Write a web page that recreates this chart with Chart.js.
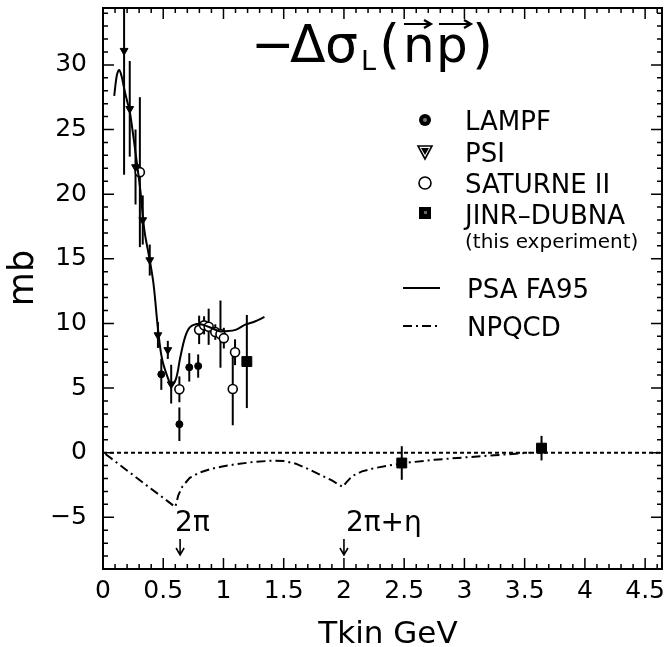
<!DOCTYPE html>
<html lang="en">
<head>
<meta charset="UTF-8">
<title>-Δσ_L(np)</title>
<script src="https://cdn.jsdelivr.net/npm/chart.js@4.4.0/dist/chart.umd.min.js"></script>
<style>
  body { margin: 0; background: #fff; }
  #wrap { width: 670px; height: 647px; }
</style>
</head>
<body>
<div id="wrap"><canvas id="chart" width="670" height="647"></canvas></div>
<script>
// axis ticks (labels)
var xTicks = [0, 0.5, 1, 1.5, 2, 2.5, 3, 3.5, 4, 4.5];
var yTicks = [-5, 0, 5, 10, 15, 20, 25, 30];
var xMin = 0, xMax = 4.64, yMin = -9, yMax = 34.4;

// LAMPF (filled circles)
var lampfX   = [0.484, 0.634, 0.716, 0.79];
var lampfY   = [6.06, 2.2, 6.6, 6.7];
var lampfErr = [1.2, 1.3, 1.1, 0.9];

// PSI (filled down triangles)
var psiX   = [0.175, 0.222, 0.27, 0.33, 0.388, 0.456, 0.538, 0.566];
var psiY   = [31.1, 26.6, 22.1, 18.0, 14.9, 9.1, 7.95, 5.3];
var psiErr = [9.6, 3.7, 2.9, 1.9, 1.2, 1.0, 0.7, 1.5];

// SATURNE II (open circles)
var satX   = [0.306, 0.634, 0.798, 0.839, 0.877, 0.932, 0.975, 1.003, 1.077, 1.096];
var satY   = [21.7, 4.9, 9.5, 9.85, 9.74, 9.33, 9.17, 8.86, 4.92, 7.77];
var satErr = [5.8, 1.0, 1.1, 0.7, 1.4, 0.6, 2.6, 0.8, 2.8, 1.0];

// JINR-DUBNA (filled squares)
var jinrX   = [1.194, 2.48, 3.64];
var jinrY   = [7.05, -0.8, 0.35];
var jinrErr = [3.6, 1.3, 0.95];

// PSA FA95 (solid)
var psaX = [0.093, 0.115, 0.134, 0.155, 0.175, 0.2, 0.222, 0.25, 0.27, 0.29, 0.31, 0.336, 0.35, 0.388, 0.42, 0.456, 0.489, 0.53, 0.57, 0.607, 0.64, 0.68, 0.72, 0.776, 0.83, 0.885, 0.967, 1.02, 1.1, 1.18, 1.26, 1.34];
var psaY = [27.6, 29.2, 29.6, 29.1, 28.2, 27.2, 26.4, 24.6, 23.2, 21.8, 20.3, 17.8, 16.8, 14.9, 13.0, 9.6, 7.3, 6.0, 5.2, 5.75, 7.3, 8.9, 9.7, 9.95, 9.9, 9.7, 9.4, 9.4, 9.5, 9.9, 10.15, 10.5];

// NPQCD (dash-dot)
var npqX = [0.02, 0.175, 0.393, 0.6, 0.625, 0.66, 0.72, 0.8, 0.9, 1.0, 1.1, 1.25, 1.4, 1.5, 1.6, 1.7, 1.8, 1.9, 1.99, 2.02, 2.07, 2.15, 2.25, 2.4, 2.55, 2.75, 3.0, 3.25, 3.55];
var npqY = [-0.1, -1.2, -2.75, -4.2, -3.3, -2.6, -1.95, -1.55, -1.25, -1.05, -0.9, -0.72, -0.62, -0.65, -0.85, -1.25, -1.7, -2.15, -2.65, -2.3, -1.8, -1.45, -1.2, -0.95, -0.75, -0.55, -0.37, -0.2, 0.0];

// threshold markers
var annotX = [0.64, 2.0];
var annotText = ['2\u03c0', '2\u03c0+\u03b7'];

var FONT = '"DejaVu Sans", sans-serif';

function pts(xs, ys) {
  return xs.map(function (v, i) { return { x: v, y: ys[i] }; });
}

var errSets = [
  { x: lampfX, y: lampfY, e: lampfErr },
  { x: psiX, y: psiY, e: psiErr },
  { x: satX, y: satY, e: satErr },
  { x: jinrX, y: jinrY, e: jinrErr }
];

function arrowRight(ctx, x1, x2, y) {
  ctx.beginPath();
  ctx.moveTo(x1, y); ctx.lineTo(x2, y);
  ctx.moveTo(x2 - 7, y - 4); ctx.lineTo(x2, y); ctx.lineTo(x2 - 7, y + 4);
  ctx.stroke();
}

function arrowDown(ctx, x, y1, y2) {
  ctx.beginPath();
  ctx.moveTo(x, y1); ctx.lineTo(x, y2);
  ctx.moveTo(x - 4, y2 - 7); ctx.lineTo(x, y2); ctx.lineTo(x + 4, y2 - 7);
  ctx.stroke();
}

function noPad(s) {
  s.paddingLeft = 0; s.paddingRight = 0; s.paddingTop = 0; s.paddingBottom = 0;
}

var decor = {
  id: 'decor',
  beforeDatasetsDraw: function (chart) {
    var ctx = chart.ctx, a = chart.chartArea, xs = chart.scales.x, ys = chart.scales.y;
    ctx.save();
    ctx.strokeStyle = '#000';
    ctx.lineWidth = 2;
    // dotted zero line
    ctx.setLineDash([4, 3]);
    var y0 = ys.getPixelForValue(0);
    ctx.beginPath(); ctx.moveTo(a.left, y0); ctx.lineTo(a.right, y0); ctx.stroke();
    ctx.setLineDash([]);
    // error bars
    ctx.beginPath(); ctx.rect(a.left, a.top, a.right - a.left, a.bottom - a.top); ctx.clip();
    errSets.forEach(function (s) {
      for (var i = 0; i < s.x.length; i++) {
        var px = xs.getPixelForValue(s.x[i]);
        ctx.beginPath();
        ctx.moveTo(px, ys.getPixelForValue(s.y[i] - s.e[i]));
        ctx.lineTo(px, ys.getPixelForValue(s.y[i] + s.e[i]));
        ctx.stroke();
      }
    });
    ctx.restore();
  },
  afterDraw: function (chart) {
    var ctx = chart.ctx, a = chart.chartArea, xs = chart.scales.x, ys = chart.scales.y;
    ctx.save();
    ctx.strokeStyle = '#000';
    ctx.fillStyle = '#000';

    // frame
    ctx.lineWidth = 2;
    ctx.strokeRect(a.left, a.top, a.right - a.left, a.bottom - a.top);

    // inward ticks on all four sides
    ctx.lineWidth = 1.5;
    ctx.beginPath();
    for (var i = 0; i <= 46; i++) {
      var px = xs.getPixelForValue(i / 10);
      var len = (i % 5 === 0) ? 11 : 5;
      ctx.moveTo(px, a.bottom); ctx.lineTo(px, a.bottom - len);
      ctx.moveTo(px, a.top); ctx.lineTo(px, a.top + len);
    }
    for (var j = -9; j <= 34; j++) {
      var py = ys.getPixelForValue(j);
      var l2 = (j % 5 === 0) ? 11 : 5;
      ctx.moveTo(a.left, py); ctx.lineTo(a.left + l2, py);
      ctx.moveTo(a.right, py); ctx.lineTo(a.right - l2, py);
    }
    ctx.stroke();

    // axis titles
    ctx.textAlign = 'center';
    ctx.textBaseline = 'alphabetic';
    ctx.font = '31px ' + FONT;
    ctx.fillText('Tkin GeV', 388, 643);
    ctx.save();
    ctx.translate(33, 278);
    ctx.rotate(-Math.PI / 2);
    ctx.font = '35px ' + FONT;
    ctx.fillText('mb', 0, 0);
    ctx.restore();

    // title  -Δσ_L(n p) with vector arrows
    ctx.textAlign = 'left';
    ctx.font = '52px ' + FONT;
    ctx.fillText('\u2212', 251, 62);
    ctx.fillText('\u0394', 290, 62);
    ctx.fillText('\u03c3', 325, 62);
    ctx.font = '27px ' + FONT;
    ctx.fillText('L', 361, 70);
    ctx.font = '54px ' + FONT;
    ctx.fillText('(', 379, 63);
    ctx.fillText(')', 472, 63);
    ctx.font = '50px ' + FONT;
    ctx.fillText('n', 403, 62);
    ctx.fillText('p', 436, 62);
    ctx.lineWidth = 2.2;
    arrowRight(ctx, 404, 431, 24);
    arrowRight(ctx, 439, 471, 24);

    // legend
    var lx = 425, tx = 465;
    ctx.lineWidth = 1.6;
    // LAMPF
    ctx.beginPath(); ctx.arc(lx, 120, 6, 0, Math.PI * 2); ctx.fill();
    ctx.fillStyle = '#777';
    ctx.beginPath(); ctx.arc(lx, 120, 2, 0, Math.PI * 2); ctx.fill();
    ctx.fillStyle = '#000';
    // PSI
    ctx.beginPath(); ctx.moveTo(lx - 7, 146); ctx.lineTo(lx + 7, 146); ctx.lineTo(lx, 159); ctx.closePath(); ctx.stroke();
    ctx.beginPath(); ctx.moveTo(lx - 4, 148); ctx.lineTo(lx + 4, 148); ctx.lineTo(lx, 155); ctx.closePath(); ctx.fill();
    // SATURNE II
    ctx.beginPath(); ctx.arc(lx, 183, 6, 0, Math.PI * 2); ctx.stroke();
    // JINR-DUBNA
    ctx.fillRect(lx - 6, 207, 12, 12);
    ctx.fillStyle = '#666';
    ctx.fillRect(lx - 1, 211, 3, 3);
    ctx.fillStyle = '#000';
    // PSA FA95 line
    ctx.lineWidth = 2;
    ctx.beginPath(); ctx.moveTo(403, 288); ctx.lineTo(440, 288); ctx.stroke();
    // NPQCD line
    ctx.setLineDash([9, 4, 2, 4]);
    ctx.beginPath(); ctx.moveTo(403, 326); ctx.lineTo(441, 326); ctx.stroke();
    ctx.setLineDash([]);

    ctx.font = '26px ' + FONT;
    ctx.fillText('LAMPF', tx, 130);
    ctx.fillText('PSI', tx, 162);
    ctx.fillText('SATURNE II', tx, 193);
    ctx.fillText('JINR\u2013DUBNA', tx, 224);
    ctx.font = '20px ' + FONT;
    ctx.fillText('(this experiment)', tx, 248);
    ctx.font = '26px ' + FONT;
    ctx.fillText('PSA FA95', tx + 2, 298);
    ctx.fillText('NPQCD', tx + 2, 336);

    // threshold annotations
    ctx.font = '28px ' + FONT;
    ctx.lineWidth = 1.6;
    for (var k = 0; k < annotX.length; k++) {
      var ax = xs.getPixelForValue(annotX[k]);
      ctx.fillText(annotText[k], ax - (k === 0 ? 5 : -2), 531);
      arrowDown(ctx, ax, 539, 555);
    }
    ctx.restore();
  }
};

var ctx = document.getElementById('chart').getContext('2d');
var chart = new Chart(ctx, {
  type: 'scatter',
  data: {
    datasets: [
      {
        label: 'PSA FA95',
        data: pts(psaX, psaY),
        showLine: true,
        borderColor: '#000',
        borderWidth: 2,
        pointRadius: 0,
        tension: 0.35
      },
      {
        label: 'NPQCD',
        data: pts(npqX, npqY),
        showLine: true,
        borderColor: '#000',
        borderWidth: 2,
        borderDash: [9, 4, 2, 4],
        pointRadius: 0,
        tension: 0
      },
      {
        label: 'LAMPF',
        data: pts(lampfX, lampfY),
        pointStyle: 'circle',
        pointRadius: 3.5,
        backgroundColor: '#000',
        borderColor: '#000',
        borderWidth: 1
      },
      {
        label: 'PSI',
        data: pts(psiX, psiY),
        pointStyle: 'triangle',
        pointRotation: 180,
        pointRadius: 4.5,
        backgroundColor: '#000',
        borderColor: '#000',
        borderWidth: 1
      },
      {
        label: 'SATURNE II',
        data: pts(satX, satY),
        pointStyle: 'circle',
        pointRadius: 4.5,
        backgroundColor: '#fff',
        borderColor: '#000',
        borderWidth: 1.6
      },
      {
        label: 'JINR-DUBNA',
        data: pts(jinrX, jinrY),
        pointStyle: 'rect',
        pointRadius: 7,
        backgroundColor: '#000',
        borderColor: '#000',
        borderWidth: 1
      }
    ]
  },
  options: {
    responsive: false,
    animation: false,
    layout: { padding: { top: 7, right: 2, left: 0, bottom: 0 } },
    plugins: {
      legend: { display: false },
      tooltip: { enabled: false }
    },
    scales: {
      x: {
        type: 'linear',
        min: xMin,
        max: xMax,
        grid: { display: false, drawTicks: false },
        border: { display: false },
        afterBuildTicks: function (s) { s.ticks = xTicks.map(function (v) { return { value: v }; }); },
        afterFit: function (s) { s.height = 78; noPad(s); },
        ticks: {
          color: '#000',
          padding: 7,
          maxRotation: 0,
          autoSkip: false,
          font: { family: FONT, size: 25 },
          callback: function (v) { return String(v); }
        }
      },
      y: {
        type: 'linear',
        min: yMin,
        max: yMax,
        grid: { display: false, drawTicks: false },
        border: { display: false },
        afterBuildTicks: function (s) { s.ticks = yTicks.map(function (v) { return { value: v }; }); },
        afterFit: function (s) { s.width = 103; noPad(s); },
        ticks: {
          color: '#000',
          padding: 16,
          autoSkip: false,
          font: { family: FONT, size: 25 },
          callback: function (v) { return v < 0 ? '\u2212' + Math.abs(v) : String(v); }
        }
      }
    }
  },
  plugins: [decor]
});
</script>
</body>
</html>
